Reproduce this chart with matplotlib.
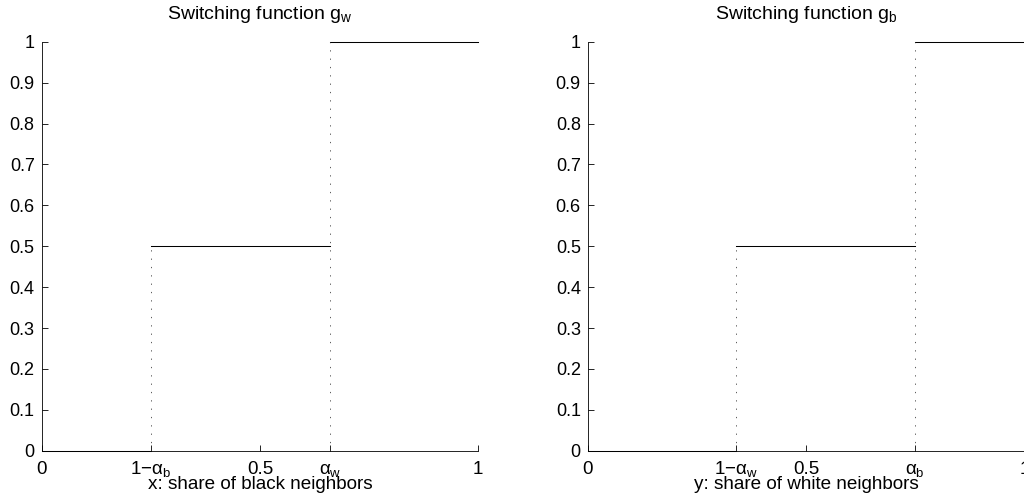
import matplotlib
matplotlib.use("Agg")
import matplotlib.pyplot as plt

plt.rcParams.update({
    "font.family": "Liberation Sans",
    "mathtext.fontset": "custom",
    "mathtext.rm": "Liberation Sans",
    "mathtext.it": "Liberation Sans",
    "mathtext.bf": "Liberation Sans:bold",
    "font.size": 13,
    "axes.linewidth": 0.6,
    "xtick.direction": "in",
    "ytick.direction": "in",
    "xtick.major.size": 4,
    "ytick.major.size": 4,
    "xtick.major.width": 0.6,
    "ytick.major.width": 0.6,
})

# thresholds
alpha_b = 0.75
alpha_w = 0.66

# step levels of the switching functions
levels = [0.0, 0.5, 1.0]
yticks = [0, 0.1, 0.2, 0.3, 0.4, 0.5, 0.6, 0.7, 0.8, 0.9, 1]
ytick_labels = ["0", "0.1", "0.2", "0.3", "0.4", "0.5", "0.6", "0.7", "0.8", "0.9", "1"]

panels = [
    dict(lo=1 - alpha_b, hi=alpha_w,
         xticklabels=["0", r"1$-\alpha_\mathrm{b}$", "0.5", r"$\alpha_\mathrm{w}$", "1"],
         title=r"Switching function g$_\mathrm{w}$",
         xlabel="x: share of black neighbors"),
    dict(lo=1 - alpha_w, hi=alpha_b,
         xticklabels=["0", r"1$-\alpha_\mathrm{w}$", "0.5", r"$\alpha_\mathrm{b}$", "1"],
         title=r"Switching function g$_\mathrm{b}$",
         xlabel="y: share of white neighbors"),
]

fig = plt.figure(figsize=(10.24, 5.03), dpi=100)
lefts = [0.0407, 0.574]
H = 409.0  # axes height in pixels

for left, p in zip(lefts, panels):
    ax = fig.add_axes([left, 0.104, 0.4264, 0.813])
    lo, hi = p["lo"], p["hi"]
    # solid steps
    ax.plot([0, lo], [levels[0]] * 2, color="k", lw=0.75)
    ax.plot([lo, hi], [levels[1]] * 2, color="k", lw=0.75)
    ax.plot([hi, 1], [levels[2]] * 2, color="k", lw=0.75)
    # dotted jumps
    ax.plot([lo, lo], [levels[0], levels[1]], color="0.25", lw=0.6, ls=(0, (1.5, 8.5)))
    ax.plot([hi, hi], [levels[0], levels[2]], color="0.25", lw=0.6, ls=(0, (1.5, 8.5)))

    ax.set_xlim(0, 1)
    ax.set_ylim(0, 1)
    ax.spines["top"].set_visible(False)
    ax.spines["right"].set_visible(False)
    ax.set_xticks([0, lo, 0.5, hi, 1])
    ax.set_xticklabels(p["xticklabels"], fontsize=13.5)
    for lab in ax.get_xticklabels():
        lab.set_verticalalignment("baseline")
    ax.set_yticks(yticks)
    ax.set_yticklabels(ytick_labels)
    ax.tick_params(axis="x", pad=17)
    ax.tick_params(axis="y", pad=5)

    ax.text(0.5, 1 + 22.5 / H, p["title"], transform=ax.transAxes,
            ha="center", va="baseline", fontsize=14)
    ax.set_xlabel(p["xlabel"], fontsize=13.6)
    ax.xaxis.set_label_coords(0.5, -38.3 / H)
    ax.xaxis.label.set_verticalalignment("baseline")
    for s in ax.spines.values():
        s.set_clip_on(False)
    for line in ax.lines:
        line.set_clip_on(False)

fig.savefig("out.png", dpi=100)
